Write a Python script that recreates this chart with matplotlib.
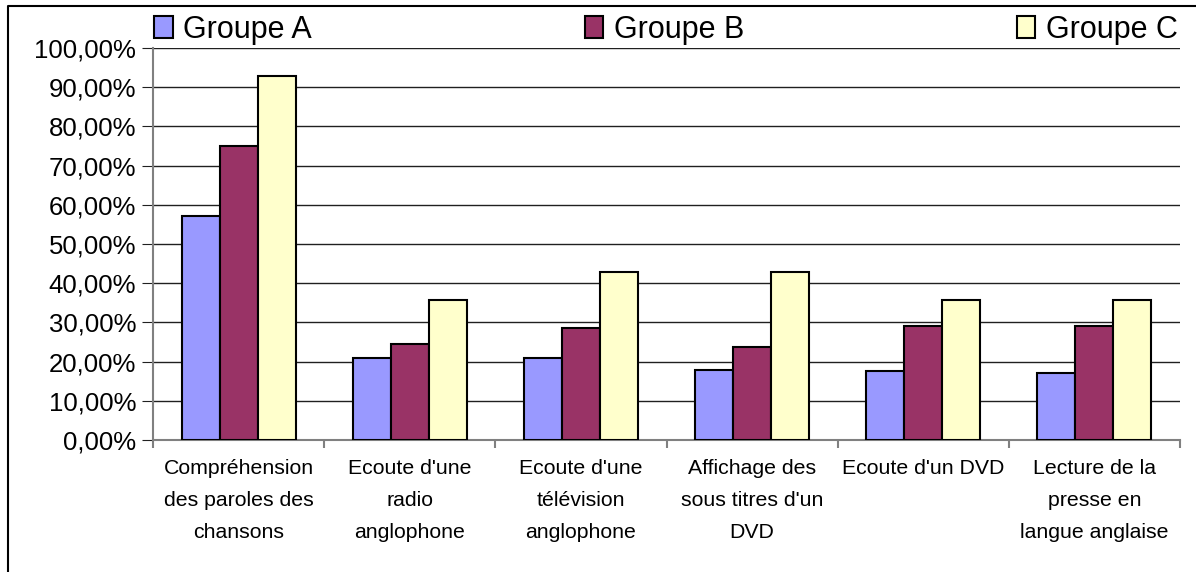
import matplotlib.pyplot as plt
import numpy as np
from matplotlib.lines import Line2D
from matplotlib.ticker import FuncFormatter

plt.rcParams['font.family'] = ['Liberation Sans', 'DejaVu Sans']

# Données
categories = ["Compréhension\ndes paroles des\nchansons",
              "Ecoute d'une\nradio\nanglophone",
              "Ecoute d'une\ntélévision\nanglophone",
              "Affichage des\nsous titres d'un\nDVD",
              "Ecoute d'un DVD",
              "Lecture de la\npresse en\nlangue anglaise"]
groupe_a = [57.14, 20.83, 20.83, 17.8, 17.7, 17.2]
groupe_b = [75.0, 24.5, 28.5, 23.8, 29.0, 29.0]
groupe_c = [92.86, 35.71, 42.86, 42.86, 35.71, 35.71]
series = ["Groupe A", "Groupe B", "Groupe C"]
couleurs = ['#9999FF', '#993366', '#FFFFCC']

fig = plt.figure(figsize=(11.96, 5.72), dpi=100)
ax = fig.add_axes([153/1196, 1 - 440/572, (1180 - 153)/1196, (440 - 48)/572])

x = np.arange(len(categories))
w = 1 / 4.5
for i, (vals, nom) in enumerate(zip([groupe_a, groupe_b, groupe_c], series)):
    ax.bar(x + (i - 1) * w, vals, w, color=couleurs[i], edgecolor='black',
           linewidth=1.5, label=nom, zorder=3)

ax.set_xlim(-0.5, len(categories) - 0.5)
ax.set_ylim(0, 100)
ax.set_yticks(np.arange(0, 101, 10))
ax.yaxis.set_major_formatter(FuncFormatter(lambda v, p: f"{v:.2f}%".replace('.', ',')))
ax.yaxis.grid(True, color='#202020', linewidth=1, zorder=0)
ax.set_axisbelow(True)

ax.set_xticks(x)
ax.set_xticklabels(categories, fontsize=15.3, linespacing=1.85)
ax.set_xticks(np.arange(-0.5, len(categories)), minor=True)
ax.tick_params(axis='x', which='major', length=0, pad=14)
ax.tick_params(axis='x', which='minor', length=6, color='#808080', width=1.5)
ax.tick_params(axis='y', length=8, color='#202020', labelsize=18.5, pad=4)

for s in ['top', 'right']:
    ax.spines[s].set_visible(False)
for s in ['left', 'bottom']:
    ax.spines[s].set_color('#808080')
    ax.spines[s].set_linewidth(1.5)

fig.legend(loc='lower left', bbox_to_anchor=(142/1196, 1 - 57/572, (1190 - 142)/1196, 0.09),
           ncol=3, mode='expand', frameon=False, fontsize=22, handlelength=0.6,
           handleheight=0.75, handletextpad=0.35, borderaxespad=0)

# Cadre
fig.add_artist(Line2D([8/1196, 8/1196, 1], [0, 1 - 6/572, 1 - 6/572],
                      transform=fig.transFigure, color='black', linewidth=1.5))

fig.savefig('out.png', dpi=100)
